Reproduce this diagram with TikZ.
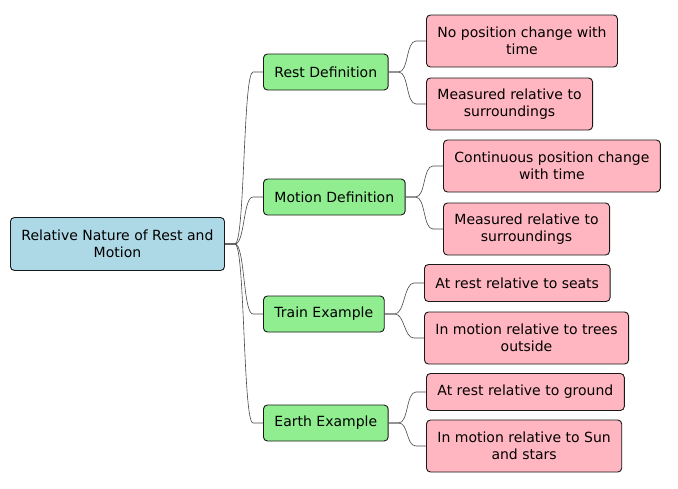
\documentclass[tikz,border=0pt]{standalone}
\usepackage{fontspec}
\setmainfont{DejaVu Sans}
\usepackage{tikz}
\usetikzlibrary{calc}
\definecolor{rootBg}{RGB}{173,216,230}
\definecolor{branchBg}{RGB}{144,238,144}
\definecolor{leafBg}{RGB}{255,182,193}
\definecolor{edgeGris}{RGB}{24,24,24}
\definecolor{lineGris}{RGB}{70,70,70}
\tikzset{
  mapbox/.style={draw=edgeGris, line width=0.9pt, rounded corners=4pt,
    align=center, inner xsep=11pt, inner ysep=0pt,
    font=\fontsize{14}{16.5}\selectfont},
  rootbox/.style={mapbox, fill=rootBg, minimum height=53pt},
  branchbox/.style={mapbox, fill=branchBg, minimum height=36pt},
  leafbox/.style={mapbox, fill=leafBg, minimum height=52pt},
  leafone/.style={mapbox, fill=leafBg, minimum height=37pt},
  link/.style={draw=lineGris, line width=0.6pt}
}
\newcommand{\linkto}[2]{%
  \draw[link] (#1.east) -- ++(10,0)
    .. controls ($(#1.east)+(20,0)$) and ($(#2.west)+(-20,0)$) ..
    ($(#2.west)+(-10,0)$) -- (#2.west);}

\begin{document}
\begin{tikzpicture}[x=1pt, y=-1pt]
  \useasboundingbox (0,0) rectangle (678,488);
  % Root
  \node[rootbox, anchor=west] (root) at (10,244)
    {Relative Nature of Rest and\\Motion};
  % Branches
  \node[branchbox, anchor=west] (rest) at (263,72) {Rest Definition};
  \node[branchbox, anchor=west] (motion) at (263,197) {Motion Definition};
  \node[branchbox, anchor=west] (train) at (263,314) {Train Example};
  \node[branchbox, anchor=west] (earth) at (263,423) {Earth Example};
  % Leaves
  \node[leafbox, anchor=west] (restA) at (426,41)
    {No position change with\\time};
  \node[leafbox, anchor=west] (restB) at (426,104)
    {Measured relative to\\surroundings};
  \node[leafbox, anchor=west] (motionA) at (443,166)
    {Continuous position change\\with time};
  \node[leafbox, anchor=west] (motionB) at (443,229)
    {Measured relative to\\surroundings};
  \node[leafone, anchor=west] (trainA) at (424,283)
    {At rest relative to seats};
  \node[leafbox, anchor=west] (trainB) at (424,338)
    {In motion relative to trees\\outside};
  \node[leafone, anchor=west] (earthA) at (426,392)
    {At rest relative to ground};
  \node[leafbox, anchor=west] (earthB) at (426,446)
    {In motion relative to Sun\\and stars};
  % Connectors
  \foreach \b in {rest,motion,train,earth}
    {\linkto{root}{\b}}
  \linkto{rest}{restA}
  \linkto{rest}{restB}
  \linkto{motion}{motionA}
  \linkto{motion}{motionB}
  \linkto{train}{trainA}
  \linkto{train}{trainB}
  \linkto{earth}{earthA}
  \linkto{earth}{earthB}
\end{tikzpicture}
\end{document}
